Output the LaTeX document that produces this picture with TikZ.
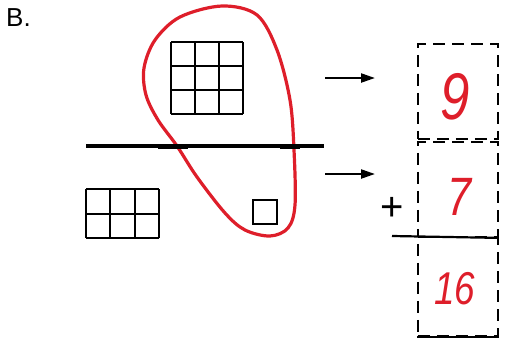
\documentclass[tikz,border=0pt]{standalone}
\usepackage{fontspec}
\setmainfont{Liberation Sans}
\usetikzlibrary{arrows.meta}
\definecolor{penred}{RGB}{222,30,42}
\begin{document}
\begin{tikzpicture}[x=1pt,y=-1pt,
  gridline/.style={line width=2pt,black},
  bar/.style={line width=3.4pt,black},
  arrowline/.style={line width=2.2pt,-{Triangle[length=14pt,width=9pt]}},
  dbox/.style={draw,dash pattern=on 12pt off 7pt,line width=1.9pt,minimum width=80pt,anchor=north west,inner sep=0pt},
  digit/.style={text=penred,inner sep=0pt,xscale=0.8,font=\fontsize{#1}{#1}\selectfont\itshape},
  redloop/.style={penred,line width=3.2pt},
  solidrule/.style={line width=2.2pt,black}]
\useasboundingbox (0,0) rectangle (509,338);
% label
\node[anchor=base west,inner sep=0pt,font=\fontsize{26}{26}\selectfont] (lab) at (6,26) {B.};
% red loop
\draw[redloop] plot[smooth cycle,tension=0.55] coordinates {(222,6) (257,15) (277,50) (290,100) (294,150) (295,205) (288,228) (270,236) (245,230) (225,213) (197,177) (177,146) (158,120) (146,95) (144,68) (155,40) (180,17)};
% 3x3 grid
\foreach \i in {0,1,2,3} {
  \draw[gridline] (171+24*\i,42) -- (171+24*\i,114);
  \draw[gridline] (171,42+24*\i) -- (243,42+24*\i);
}
% 2x3 grid
\foreach \i in {0,1,2,3} \draw[gridline] (86+24.33*\i,189) -- (86+24.33*\i,238);
\foreach \i in {0,1,2} \draw[gridline] (86,189+24.5*\i) -- (159,189+24.5*\i);
% single square
\draw[gridline] (253,200) rectangle (277,224);
% horizontal bar
\draw[bar] (86,146) -- (324,146);
\draw[line width=4pt] (158,147) -- (188,147);
\draw[line width=4pt] (280,147) -- (300,147);
% dashed boxes
\node[dbox,minimum height=95pt] (box1) at (417,43) {};
\node[dbox,minimum height=95pt] (box2) at (417,141) {};
\node[dbox,minimum height=99pt] (box3) at (417,236) {};
\coordinate (rulestart) at (392,236);
\draw[solidrule] (rulestart) -- (box2.south east);
\draw[solidrule] (box3.south west) -- (box3.south east);
% arrows
\coordinate (a1s) at (325,78);
\coordinate (a1e) at (375,78);
\coordinate (a2s) at (325,174);
\coordinate (a2e) at (375,174);
\draw[arrowline] (a1s) -- (a1e);
\draw[arrowline] (a2s) -- (a2e);
% plus
\node[inner sep=0pt,font=\fontsize{40}{40}\selectfont] (plus) at (392,209) {+};
% digits
\node[digit=66] (n9) at (455,97) {9};
\node[digit=54] (n7) at (460,197) {7};
\node[digit=46] (n16) at (455,289) {16};
\end{tikzpicture}
\end{document}
